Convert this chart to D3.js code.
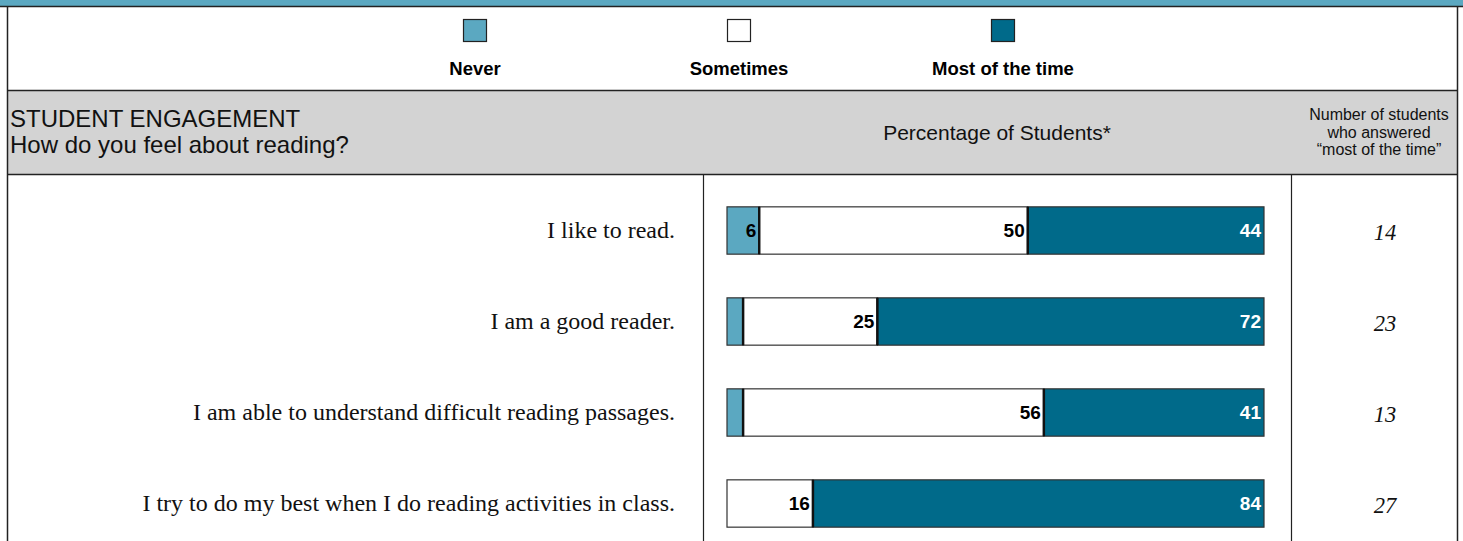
<!DOCTYPE html>
<html>
<head>
<meta charset="utf-8">
<script src="https://cdn.jsdelivr.net/npm/d3@7"></script>
<style>
  html, body { margin: 0; padding: 0; background: #fff; }
  svg { display: block; }
</style>
</head>
<body>
<svg id="chart" width="1463" height="541"></svg>
<script>
// Survey statements and response shares (percent of students)
const statements = [
  "I like to read.",
  "I am a good reader.",
  "I am able to understand difficult reading passages.",
  "I try to do my best when I do reading activities in class."
];
const responseKeys = ["Never", "Sometimes", "Most of the time"];
const neverPct = [6, 3, 3, 0];
const sometimesPct = [50, 25, 56, 16];
const mostPct = [44, 72, 41, 84];
const mostCounts = [14, 23, 13, 27];

const colors = ["#5ba8c1", "#ffffff", "#006a8a"];
const labelColors = ["#000", "#000", "#fff"];
const minLabelPct = 5;

const W = 1463, H = 541;
const svg = d3.select("#chart");
const sans = "'Liberation Sans', Arial, sans-serif";
const serif = "'Liberation Serif', 'Times New Roman', serif";

// Frame: top band, legend strip, grey header
svg.append("rect").attr("x", 0).attr("y", 0).attr("width", W).attr("height", 6).attr("fill", "#5ba8c1");
svg.append("line").attr("x1", 0).attr("x2", W).attr("y1", 6.5).attr("y2", 6.5).attr("stroke", "#222").attr("stroke-width", 1.5);
svg.append("rect").attr("x", 7).attr("y", 90.5).attr("width", 1451).attr("height", 84).attr("fill", "#d3d3d3");
svg.append("line").attr("x1", 7).attr("x2", 1458).attr("y1", 90.5).attr("y2", 90.5).attr("stroke", "#222").attr("stroke-width", 1.5);
svg.append("line").attr("x1", 7).attr("x2", 1458).attr("y1", 174.5).attr("y2", 174.5).attr("stroke", "#222").attr("stroke-width", 1.5);
svg.append("line").attr("x1", 7.5).attr("x2", 7.5).attr("y1", 6).attr("y2", H).attr("stroke", "#222").attr("stroke-width", 1.5);
svg.append("line").attr("x1", 1457.5).attr("x2", 1457.5).attr("y1", 6).attr("y2", H).attr("stroke", "#222").attr("stroke-width", 1.5);
svg.append("line").attr("x1", 703.5).attr("x2", 703.5).attr("y1", 175).attr("y2", H).attr("stroke", "#222").attr("stroke-width", 1.2);
svg.append("line").attr("x1", 1291.5).attr("x2", 1291.5).attr("y1", 175).attr("y2", H).attr("stroke", "#222").attr("stroke-width", 1.2);

// Legend
const legendX = d3.scalePoint().domain(responseKeys).range([475, 1003]);
const legend = svg.append("g").selectAll("g").data(responseKeys).join("g")
  .attr("transform", d => `translate(${legendX(d)},0)`);
legend.append("rect")
  .attr("x", -11.5).attr("y", 19.5).attr("width", 23).attr("height", 22)
  .attr("fill", (d, i) => colors[i]).attr("stroke", "#222").attr("stroke-width", 1.2);
legend.append("text")
  .attr("y", 74.5).attr("text-anchor", "middle")
  .attr("font-family", sans).attr("font-weight", "bold").attr("font-size", 18.5)
  .text(d => d);

// Header texts
const head = svg.append("g").attr("font-family", sans).attr("fill", "#111");
head.append("text").attr("x", 10).attr("y", 127).attr("font-size", 24).text("STUDENT ENGAGEMENT");
head.append("text").attr("x", 10).attr("y", 153).attr("font-size", 24).text("How do you feel about reading?");
head.append("text").attr("x", 997).attr("y", 139.5).attr("text-anchor", "middle").attr("font-size", 21).text("Percentage of Students*");
["Number of students", "who answered", "\u201cmost of the time\u201d"].forEach((t, i) => {
  head.append("text").attr("x", 1379).attr("y", 120 + i * 17.5).attr("text-anchor", "middle").attr("font-size", 16).text(t);
});

// Scales
const x = d3.scaleLinear().domain([0, 100]).range([727, 1264]);
const y = d3.scaleBand().domain(statements).range([185, 549]).paddingInner(0.48).paddingOuter(0.24);

const rows = statements.map((s, i) => {
  const vals = [neverPct[i], sometimesPct[i], mostPct[i]];
  let acc = 0;
  const segs = vals.map((v, k) => {
    const seg = { key: responseKeys[k], k, v, x0: acc, x1: acc + v };
    acc += v;
    return seg;
  });
  return { s, i, segs };
});

const rowG = svg.append("g").selectAll("g").data(rows).join("g")
  .attr("transform", d => `translate(0,${y(d.s)})`);

// Statement text
rowG.append("text")
  .attr("x", 675).attr("y", y.bandwidth() / 2 + 8)
  .attr("text-anchor", "end").attr("font-family", serif).attr("font-size", 24).attr("fill", "#111")
  .text(d => d.s);

// Count of "most of the time"
rowG.append("text")
  .attr("x", 1385).attr("y", y.bandwidth() / 2 + 9.5)
  .attr("text-anchor", "middle").attr("font-family", serif).attr("font-style", "italic").attr("font-size", 22.5).attr("fill", "#111")
  .text(d => mostCounts[d.i]);

// Stacked segments
const seg = rowG.selectAll("g.seg").data(d => d.segs.filter(s => s.v > 0)).join("g").attr("class", "seg");
seg.append("rect")
  .attr("x", d => x(d.x0)).attr("width", d => x(d.x1) - x(d.x0))
  .attr("y", 0).attr("height", y.bandwidth())
  .attr("fill", d => colors[d.k]).attr("stroke", "#333").attr("stroke-width", 1.2);
// darker divider on the left edge of each following segment
seg.filter(d => d.x0 > 0).append("line")
  .attr("x1", d => x(d.x0)).attr("x2", d => x(d.x0))
  .attr("y1", 0).attr("y2", y.bandwidth())
  .attr("stroke", "#111").attr("stroke-width", 2.5);
seg.filter(d => d.v >= minLabelPct).append("text")
  .attr("x", d => x(d.x1) - 3).attr("y", y.bandwidth() / 2 + 7)
  .attr("text-anchor", "end").attr("font-family", sans).attr("font-weight", "bold").attr("font-size", 19)
  .attr("fill", d => labelColors[d.k])
  .text(d => d.v);
</script>
</body>
</html>
